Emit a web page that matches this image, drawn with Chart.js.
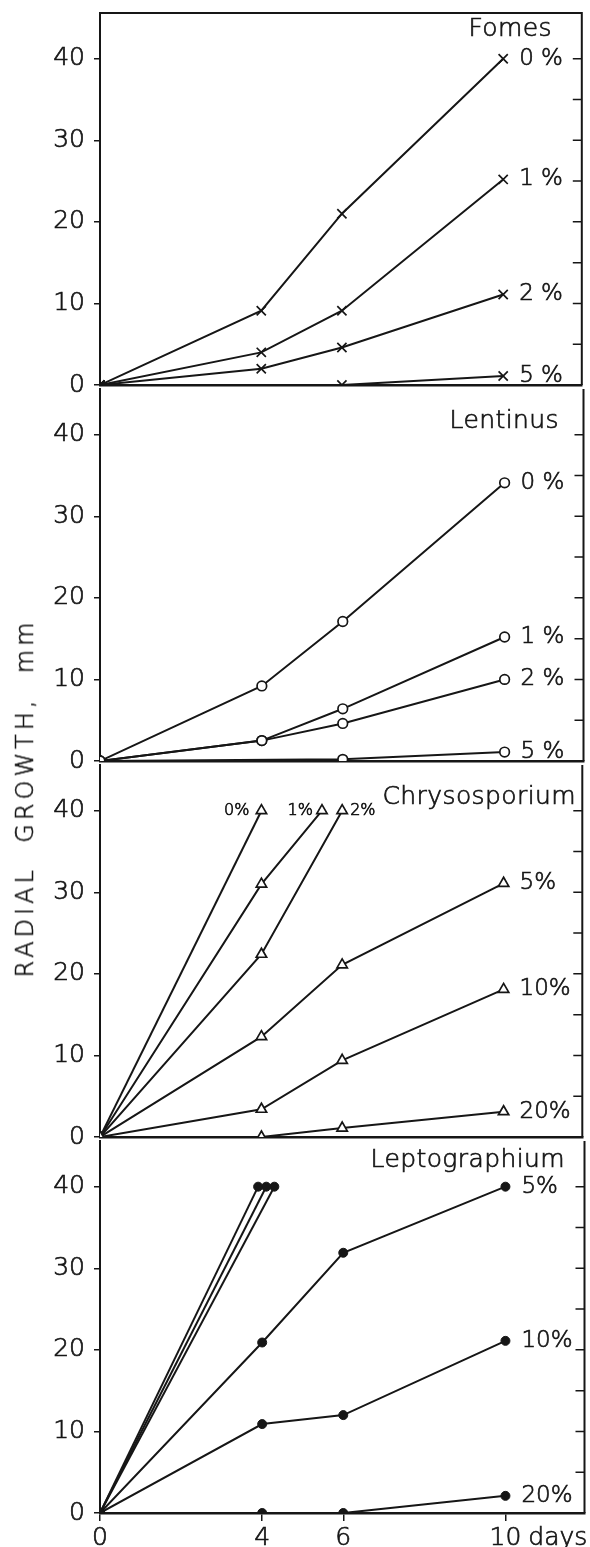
<!DOCTYPE html>
<html>
<head>
<meta charset="utf-8">
<script src="https://cdn.jsdelivr.net/npm/chart.js@4.4.1/dist/chart.umd.min.js"></script>
<style>
  body { margin: 0; background: #fff; }
  #page { position: relative; width: 590px; height: 1547px; overflow: hidden; background: #fff; }
  canvas.panel { position: absolute; left: 0; }
  #ytitle {
    position: absolute; left: 25px; top: 798px;
    transform: translate(-50%, -50%) rotate(-90deg);
    font: 200 24px 'DejaVu Sans', sans-serif; letter-spacing: 4px;
    -webkit-text-stroke: 0.6px #161616;
    white-space: pre; color: #161616;
  }
</style>
</head>
<body>
<div id="page">
  <canvas id="fomes" class="panel"></canvas>
  <canvas id="lentinus" class="panel"></canvas>
  <canvas id="chrys" class="panel"></canvas>
  <canvas id="lepto" class="panel"></canvas>
  <div id="ytitle">RADIAL  GROWTH,  mm</div>
</div>
<script>
  const days = [0, 4, 6, 10];
  const yTicks = [0, 10, 20, 30, 40];
  const rightTicks = [5, 10, 15, 20, 25, 30, 35, 40];

  // Fomes (x markers), no reading for 5 % at day 4
  const fomesLabels = ['0 %', '1 %', '2 %', '5 %'];
  const fomes0 = [0, 9.1, 21, 40];
  const fomes1 = [0, 4, 9.1, 25.2];
  const fomes2 = [0, 2, 4.6, 11.1];
  const fomes5 = [0, null, 0, 1.1];

  // Lentinus (open circles)
  const lentinusLabels = ['0 %', '1 %', '2 %', '5 %'];
  const lentinus0 = [0, 9.2, 17.1, 34.1];
  const lentinus1 = [0, 2.5, 6.4, 15.2];
  const lentinus2 = [0, 2.5, 4.6, 10];
  const lentinus5 = [0, null, 0.2, 1.1];

  // Chrysosporium (open triangles), 0-2 % filled the plate early
  const chrysLabels = ['0%', '1%', '2%', '5%', '10%', '20%'];
  const chrysDays0 = [0, 4];
  const chrysDays1 = [0, 4, 5.5];
  const chrysDays2 = [0, 4, 6];
  const chrys0 = [0, 40];
  const chrys1 = [0, 31, 40];
  const chrys2 = [0, 22.4, 40];
  const chrys5 = [0, 12.3, 21.1, 31.1];
  const chrys10 = [0, 3.4, 9.4, 18.1];
  const chrys20 = [0, 0, 1.1, 3.1];

  // Leptographium (filled dots), three fast series unlabelled
  const leptoLabels = ['', '', '', '5%', '10%', '20%'];
  const leptoDays0 = [0, 3.9];
  const leptoDays1 = [0, 4.1];
  const leptoDays2 = [0, 4.3];
  const lepto0 = [0, 40];
  const lepto1 = [0, 40];
  const lepto2 = [0, 40];
  const lepto5 = [0, 20.9, 31.9, 40];
  const lepto10 = [0, 10.9, 12, 21.1];
  const lepto20 = [0, 0, 0, 2.1];

  const INK = '#161616';
  const FONT = "'DejaVu Sans', sans-serif";
  const TEXT_STROKE = 0.7;
  const PANEL_H = 376;
  const PAD_TOP = 20;
  const X_AXIS_H = 45;
  const Y_MAX = 45.6;
  const X_MAX = 11.95;

  const cross = { pointStyle: 'crossRot', pointRadius: 6.5, pointBorderWidth: 1.7, pointBackgroundColor: '#fff' };
  const ring = { pointStyle: 'circle', pointRadius: 4.8, pointBorderWidth: 1.7, pointBackgroundColor: '#fff' };
  const tri = { pointStyle: 'triangle', pointRadius: 6, pointBorderWidth: 1.7, pointBackgroundColor: '#fff' };
  const dot = { pointStyle: 'circle', pointRadius: 4.5, pointBorderWidth: 1, pointBackgroundColor: INK };

  function series(label, xs, ys, marker, note) {
    return Object.assign({
      label,
      data: xs.map((x, i) => ({ x, y: ys[i] })),
      borderColor: INK,
      borderWidth: 2,
      tension: 0,
      spanGaps: true,
      pointBorderColor: INK,
      note: note || {}
    }, marker);
  }

  function text(ctx, str, x, y) {
    ctx.fillText(str, x, y);
    ctx.strokeText(str, x, y);
  }

  const framePlugin = {
    id: 'frame',
    afterDraw(chart) {
      const o = chart.options.plugins.frame;
      const { ctx, chartArea: a, scales: { x, y } } = chart;
      ctx.save();
      ctx.strokeStyle = INK;
      ctx.lineWidth = 2;
      ctx.beginPath();
      ctx.moveTo(a.right, a.top - (o.topBorder ? 1 : 0));
      ctx.lineTo(a.right, a.bottom);
      if (o.topBorder) {
        ctx.moveTo(a.left, a.top);
        ctx.lineTo(a.right, a.top);
      }
      ctx.stroke();
      ctx.lineWidth = 1.5;
      ctx.beginPath();
      rightTicks.forEach(v => {
        const py = y.getPixelForValue(v);
        ctx.moveTo(a.right - 9, py);
        ctx.lineTo(a.right, py);
      });
      ctx.stroke();

      // end labels next to the last point of each series
      ctx.fillStyle = INK;
      ctx.lineWidth = TEXT_STROKE;
      ctx.textBaseline = 'middle';
      chart.data.datasets.forEach((ds, i) => {
        if (!ds.label) return;
        const pts = chart.getDatasetMeta(i).data;
        const p = pts[pts.length - 1];
        const n = ds.note;
        ctx.font = (n.small ? '200 16px ' : '200 23px ') + FONT;
        if (n.side === 'left') {
          ctx.textAlign = 'right';
          text(ctx, ds.label, p.x - (n.gap || 10), p.y);
        } else {
          ctx.textAlign = 'left';
          text(ctx, ds.label, p.x + (n.gap || 16), p.y);
        }
      });

      // fungus name
      ctx.font = '200 25px ' + FONT;
      ctx.letterSpacing = '0.4px';
      ctx.textAlign = 'right';
      text(ctx, o.title, o.titleRight, a.top + o.titleDy);
      ctx.letterSpacing = '0px';

      if (o.unit) {
        ctx.font = '200 25px ' + FONT;
        ctx.textAlign = 'left';
        const px = x.getPixelForValue(days[days.length - 1]) + ctx.measureText('10').width / 2 + 7;
        text(ctx, o.unit, px, a.bottom + 8 + 2 + 15);
      }
      ctx.restore();
    }
  };

  function makeChart(id, index, datasets, frame) {
    const canvas = document.getElementById(id);
    const top = 9 + index * PANEL_H;
    canvas.style.top = (top - PAD_TOP) + 'px';
    canvas.width = 590;
    canvas.height = PAD_TOP + PANEL_H + X_AXIS_H;
    const showDays = !!frame.unit;
    const tickFont = { family: FONT, size: 25, weight: '200' };
    return new Chart(canvas, {
      type: 'line',
      data: { datasets },
      options: {
        responsive: false,
        animation: false,
        layout: { padding: { top: PAD_TOP, right: 2, left: 0, bottom: 0 } },
        plugins: {
          legend: { display: false },
          tooltip: { enabled: false },
          frame
        },
        scales: {
          x: {
            type: 'linear', min: 0, max: X_MAX,
            afterFit: s => { s.height = X_AXIS_H; },
            afterBuildTicks: s => { s.ticks = days.map(v => ({ value: v })); },
            grid: { drawOnChartArea: false, drawTicks: showDays, tickLength: 8, color: INK, lineWidth: 1.5 },
            border: { display: true, color: INK, width: 2.5 },
            ticks: { display: showDays, color: INK, padding: 2, maxRotation: 0, autoSkip: false,
                     textStrokeColor: INK, textStrokeWidth: TEXT_STROKE, font: tickFont }
          },
          y: {
            min: 0, max: Y_MAX,
            afterFit: s => { s.width = 100; },
            afterBuildTicks: s => { s.ticks = yTicks.map(v => ({ value: v })); },
            grid: { drawOnChartArea: false, drawTicks: true, tickLength: 6, color: INK, lineWidth: 1.5 },
            border: { display: true, color: INK, width: 2 },
            ticks: { color: INK, padding: 9, textStrokeColor: INK, textStrokeWidth: TEXT_STROKE, font: tickFont }
          }
        }
      },
      plugins: [framePlugin]
    });
  }

  makeChart('fomes', 0, [
    series(fomesLabels[0], days, fomes0, cross),
    series(fomesLabels[1], days, fomes1, cross),
    series(fomesLabels[2], days, fomes2, cross),
    series(fomesLabels[3], days, fomes5, cross)
  ], { title: 'Fomes', titleRight: 552, titleDy: 16, topBorder: true });

  makeChart('lentinus', 1, [
    series(lentinusLabels[0], days, lentinus0, ring),
    series(lentinusLabels[1], days, lentinus1, ring),
    series(lentinusLabels[2], days, lentinus2, ring),
    series(lentinusLabels[3], days, lentinus5, ring)
  ], { title: 'Lentinus', titleRight: 559, titleDy: 32 });

  makeChart('chrys', 2, [
    series(chrysLabels[0], chrysDays0, chrys0, tri, { side: 'left', small: true, gap: 12 }),
    series(chrysLabels[1], chrysDays1, chrys1, tri, { side: 'left', small: true, gap: 9 }),
    series(chrysLabels[2], chrysDays2, chrys2, tri, { small: true, gap: 8 }),
    series(chrysLabels[3], days, chrys5, tri),
    series(chrysLabels[4], days, chrys10, tri),
    series(chrysLabels[5], days, chrys20, tri)
  ], { title: 'Chrysosporium', titleRight: 576, titleDy: 32 });

  makeChart('lepto', 3, [
    series(leptoLabels[0], leptoDays0, lepto0, dot),
    series(leptoLabels[1], leptoDays1, lepto1, dot),
    series(leptoLabels[2], leptoDays2, lepto2, dot),
    series(leptoLabels[3], days, lepto5, dot),
    series(leptoLabels[4], days, lepto10, dot),
    series(leptoLabels[5], days, lepto20, dot)
  ], { title: 'Leptographium', titleRight: 565, titleDy: 19, unit: 'days' });
</script>
</body>
</html>
